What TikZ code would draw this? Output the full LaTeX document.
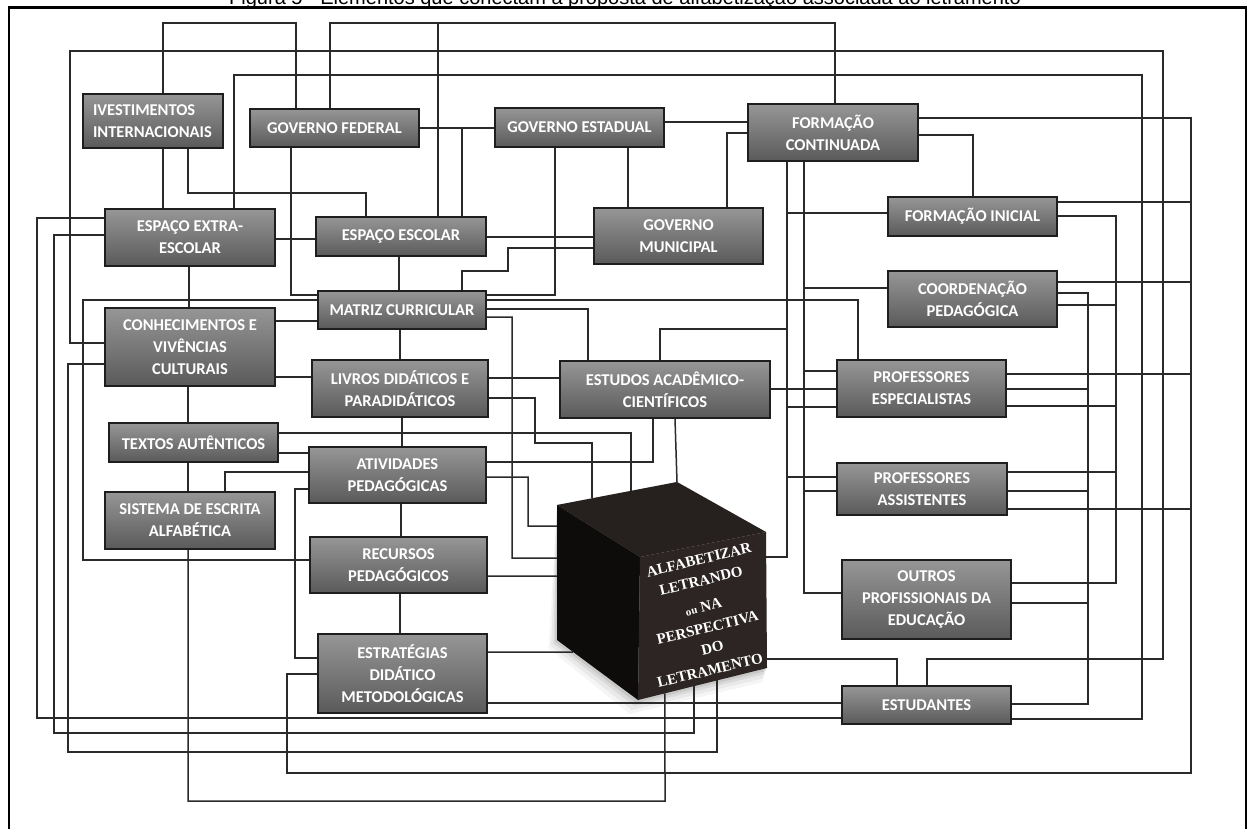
\documentclass[tikz,border=0pt]{standalone}
\usepackage{fontspec}
\newfontfamily\boxfont{Carlito}
\newfontfamily\cubefont{Liberation Serif}
\newfontfamily\titlefont{Liberation Sans}
\usetikzlibrary{calc}
\definecolor{boxtop}{HTML}{969696}
\definecolor{boxbot}{HTML}{5A5A5A}
\definecolor{boxline}{HTML}{1E1E1E}
\definecolor{linkc}{HTML}{2A2A2A}
\definecolor{cubeleft}{HTML}{0E0C0B}
\definecolor{cubetop}{HTML}{26211F}
\definecolor{cuberight}{HTML}{2C2523}
\pgfdeclarelayer{shadow}
\pgfdeclarelayer{bg}
\pgfsetlayers{shadow,bg,main}
\tikzset{
  box/.style={draw=boxline, line width=1.4pt, top color=boxtop, bottom color=boxbot,
    inner sep=0pt, align=center, text=white,
    font=\boxfont\bfseries\fontsize{16.5}{22}\selectfont},
  link/.style={draw=linkc, line width=1.5pt},
  cubetext/.style={text=white, rotate=13.5, inner sep=0pt, align=center,
    font=\cubefont\bfseries\fontsize{15}{21}\selectfont},
}
\begin{document}
\begin{tikzpicture}[x=1pt,y=-1pt]
\useasboundingbox (0,0) rectangle (1249,828);

% title (partly above the page edge) and frame
\node[anchor=base, inner sep=0pt, font=\titlefont\fontsize{20}{24}\selectfont] (title) at (625,4)
  {Figura 5 - Elementos que conectam a proposta de alfabetização associada ao letramento};
\draw[line width=2.4pt] (9,832) -- (9,7.5) -- (1246,7.5) -- (1246,832);

% boxes
\node[box, minimum width=140, minimum height=54, text width=120, align=left] (ivest) at (153,121) {IVESTIMENTOS\\INTERNACIONAIS};
\node[box, minimum width=169, minimum height=38] (gfed) at (334.5,128) {GOVERNO FEDERAL};
\node[box, minimum width=169, minimum height=39] (gest) at (579.5,127.5) {GOVERNO ESTADUAL};
\node[box, minimum width=170, minimum height=57] (fcont) at (833,132.5) {FORMAÇÃO\\CONTINUADA};
\node[box, minimum width=170, minimum height=57] (extra) at (190,237.5) {ESPAÇO EXTRA-\\ESCOLAR};
\node[box, minimum width=170, minimum height=39] (escolar) at (401,236.5) {ESPAÇO ESCOLAR};
\node[box, minimum width=169, minimum height=56] (gmun) at (678.5,236) {GOVERNO\\MUNICIPAL};
\node[box, minimum width=169, minimum height=39] (finic) at (972.5,216.5) {FORMAÇÃO INICIAL};
\node[box, minimum width=169, minimum height=56] (coord) at (972.5,299) {COORDENAÇÃO\\PEDAGÓGICA};
\node[box, minimum width=168, minimum height=38] (matriz) at (402,310) {MATRIZ CURRICULAR};
\node[box, minimum width=170, minimum height=78] (conhec) at (190,347) {CONHECIMENTOS E\\VIVÊNCIAS\\CULTURAIS};
\node[box, minimum width=176, minimum height=57] (livros) at (400,388.5) {LIVROS DIDÁTICOS E\\PARADIDÁTICOS};
\node[box, minimum width=210, minimum height=57] (estudos) at (665,389.5) {ESTUDOS ACADÊMICO-\\CIENTÍFICOS};
\node[box, minimum width=169, minimum height=57] (profesp) at (921.5,388.5) {PROFESSORES\\ESPECIALISTAS};
\node[box, minimum width=169, minimum height=39] (textos) at (193.5,442.5) {TEXTOS AUTÊNTICOS};
\node[box, minimum width=177, minimum height=56] (ativ) at (397.5,475) {ATIVIDADES\\PEDAGÓGICAS};
\node[box, minimum width=170, minimum height=52] (profass) at (922,489) {PROFESSORES\\ASSISTENTES};
\node[box, minimum width=170, minimum height=57] (sistema) at (190,520.5) {SISTEMA DE ESCRITA\\ALFABÉTICA};
\node[box, minimum width=177, minimum height=56] (recursos) at (398.5,565) {RECURSOS\\PEDAGÓGICOS};
\node[box, minimum width=169, minimum height=79] (outros) at (926.5,599.5) {OUTROS\\PROFISSIONAIS DA\\EDUCAÇÃO};
\node[box, minimum width=169, minimum height=79] (estrat) at (402.5,673.5) {ESTRATÉGIAS\\DIDÁTICO\\METODOLÓGICAS};
\node[box, minimum width=169, minimum height=38] (estud) at (926.5,705) {ESTUDANTES};

% central cube
\coordinate (cA) at (557,505);
\coordinate (cB) at (677,482);
\coordinate (cC) at (766,532);
\coordinate (cD) at (640,557);
\coordinate (cE) at (557,640);
\coordinate (cF) at (638,700);
\coordinate (cG) at (767,668);
\begin{pgfonlayer}{shadow}
  \foreach \d/\o in {14/0.04,10/0.05,6/0.07,3/0.08}{
    \fill[black, opacity=\o] (cA) -- (cB) -- (cC) -- ($(cG)+(-\d*0.3,\d)$)
      -- ($(cF)+(-\d*0.6,\d)$) -- ($(cE)+(-\d*0.6,\d*0.6)$) -- cycle;
  }
\end{pgfonlayer}
\fill[cubetop] (cA) -- (cB) -- (cC) -- (cD) -- cycle;
\fill[cubeleft] (cA) -- (cD) -- (cF) -- (cE) -- cycle;
\fill[cuberight] (cD) -- (cC) -- (cG) -- (cF) -- cycle;
\node[cubetext] (cubelabel) at (704.5,615)
  {\hspace*{15pt}ALFABETIZAR\\
   \hspace*{9pt}LETRANDO\\[5pt]
   \hspace*{2pt}{\fontsize{11}{13}\selectfont ou} NA\\
   PERSPECTIVA\hspace*{4pt}\\
   DO\hspace*{9pt}\\
   LETRAMENTO\hspace*{15pt}};

% connectors
\begin{pgfonlayer}{bg}
\draw[link] (ivest.north -| 163,0) |- (296,23) -- (gfed.north -| 296,0);
\draw[link] (gfed.north -| 330,0) |- (835,23) -- (fcont.north -| 835,0);
\draw[link] (438,23) -- (escolar.north -| 438,0);
\draw[link] (conhec.west |- 0,343) -| (70,51) -| (1163,659) -| (estud.north -| 927,0);
\draw[link] (extra.north -| 234,0) |- (1142,75) |- (estud.east |- 0,719);
\draw[link] (ivest.south -| 163,0) -- (extra.north -| 163,0);
\draw[link] (ivest.south -| 188,0) |- (366,193) -- (escolar.north -| 366,0);
\draw[link] (gfed.south -| 291,0) |- (matriz.west |- 0,295);
\draw[link] (extra.east |- 0,239) -- (escolar.west |- 0,239);
\draw[link] (extra.west |- 0,218) -| (37,718) -- (estud.west |- 0,718);
\draw[link] (extra.west |- 0,235) -| (54,733) -| ($(cF)!0.434!(cG)$);
\draw[link] (conhec.west |- 0,364) -| (68,752) -| ($(cF)!0.612!(cG)$);
\draw[link] (matriz.west |- 0,300) -| (83,560) -- (recursos.west |- 0,560);
\draw[link] (conhec.east |- 0,321) -- (matriz.west |- 0,321);
\draw[link] (conhec.east |- 0,377) -- (livros.west |- 0,377);
\draw[link] (extra.south -| 189,0) -- (conhec.north -| 189,0);
\draw[link] (conhec.south -| 188,0) -- (textos.north -| 188,0);
\draw[link] (textos.south -| 188,0) -- (sistema.north -| 188,0);
\draw[link] (sistema.south -| 188,0) |- (665,801) -- ($(cF)!0.209!(cG)$);
\draw[link] (textos.east |- 0,433) -| ($(cA)!0.617!(cB)$);
\draw[link] (textos.east |- 0,453) -- (ativ.west |- 0,453);
\draw[link] (ativ.west |- 0,472) -| (sistema.north -| 225,0);
\draw[link] (ativ.west |- 0,489) -| (295,658) -- (estrat.west |- 0,658);
\draw[link] (estrat.west |- 0,674) -| (287,773) -| (1191,118) -- (fcont.east |- 0,118);
\draw[link] (estrat.east |- 0,652) -- ($(cE)!0.2!(cF)$);
\draw[link] (recursos.east |- 0,576) -- ($(cA)!0.526!(cE)$);
\draw[link] (matriz.east |- 0,317) -| (512,558) -- ($(cA)!0.393!(cE)$);
\draw[link] (fcont.south -| 787,0) |- ($(cC)!0.184!(cG)$);
\draw[link] (finic.west |- 0,213) -- (787,213);
\draw[link] (estudos.north -| 660,0) |- (787,329);
\draw[link] (profesp.west |- 0,407) -- (787,407);
\draw[link] (profass.west |- 0,477) -- (787,477);
\draw[link] (fcont.south -| 804,0) |- (outros.west |- 0,593);
\draw[link] (coord.west |- 0,288) -- (804,288);
\draw[link] (profesp.west |- 0,371) -- (804,371);
\draw[link] (profass.west |- 0,491) -- (804,491);
\draw[link] (matriz.east |- 0,300) -| (profesp.north -| 858,0);
\draw[link] (matriz.east |- 0,309) -| (estudos.north -| 588,0);
\draw[link] (livros.east |- 0,378) -- (estudos.west |- 0,378);
\draw[link] (livros.east |- 0,398) -| (535,443) -| ($(cA)!0.292!(cB)$);
\draw[link] (estudos.east |- 0,389) -- (profesp.west |- 0,389);
\draw[link] (ativ.east |- 0,462) -| (estudos.south -| 653,0);
\draw[link] (estudos.south -| 675,0) -- (cB);
\draw[link] (ativ.east |- 0,477) -| (528,526) -- ($(cA)!0.156!(cE)$);
\draw[link] (escolar.east |- 0,237) -- (gmun.west |- 0,237);
\draw[link] (gfed.east |- 0,128) -- (gest.west |- 0,128);
\draw[link] (escolar.north -| 462,0) -- (462,128);
\draw[link] (escolar.south -| 399,0) -- (matriz.north -| 399,0);
\draw[link] (gest.south -| 555,0) |- (matriz.east |- 0,295);
\draw[link] (gest.south -| 628,0) -- (gmun.north -| 628,0);
\draw[link] (gest.east |- 0,122) -- (fcont.west |- 0,122);
\draw[link] (gmun.north -| 727,0) |- (fcont.west |- 0,133);
\draw[link] (gmun.west |- 0,248) -| (508,271) -| (matriz.north -| 462,0);
\draw[link] (fcont.east |- 0,135) -| (finic.north -| 973,0);
\draw[link] (finic.east |- 0,202) -- (1191,202);
\draw[link] (coord.east |- 0,282) -- (1191,282);
\draw[link] (profesp.east |- 0,374) -- (1191,374);
\draw[link] (profass.east |- 0,509) -- (1191,509);
\draw[link] (finic.east |- 0,216) -| (1116,583) -- (outros.east |- 0,583);
\draw[link] (coord.east |- 0,305) -- (1116,305);
\draw[link] (profesp.east |- 0,406) -- (1116,406);
\draw[link] (profass.east |- 0,472) -- (1116,472);
\draw[link] (coord.east |- 0,293) -| (1088,704) -- (estud.east |- 0,704);
\draw[link] (profesp.east |- 0,389) -- (1088,389);
\draw[link] (profass.east |- 0,491) -- (1088,491);
\draw[link] (outros.east |- 0,603) -- (1088,603);
\draw[link] ($(cC)!0.934!(cG)$) -| (estud.north -| 897,0);
\draw[link] (estrat.east |- 0,703) -- (estud.west |- 0,703);
\draw[link] (matriz.south -| 400,0) -- (livros.north -| 400,0);
\draw[link] (livros.south -| 402,0) -- (ativ.north -| 402,0);
\draw[link] (ativ.south -| 401,0) -- (recursos.north -| 401,0);
\draw[link] (recursos.south -| 400,0) -- (estrat.north -| 400,0);
\end{pgfonlayer}
\end{tikzpicture}
\end{document}
